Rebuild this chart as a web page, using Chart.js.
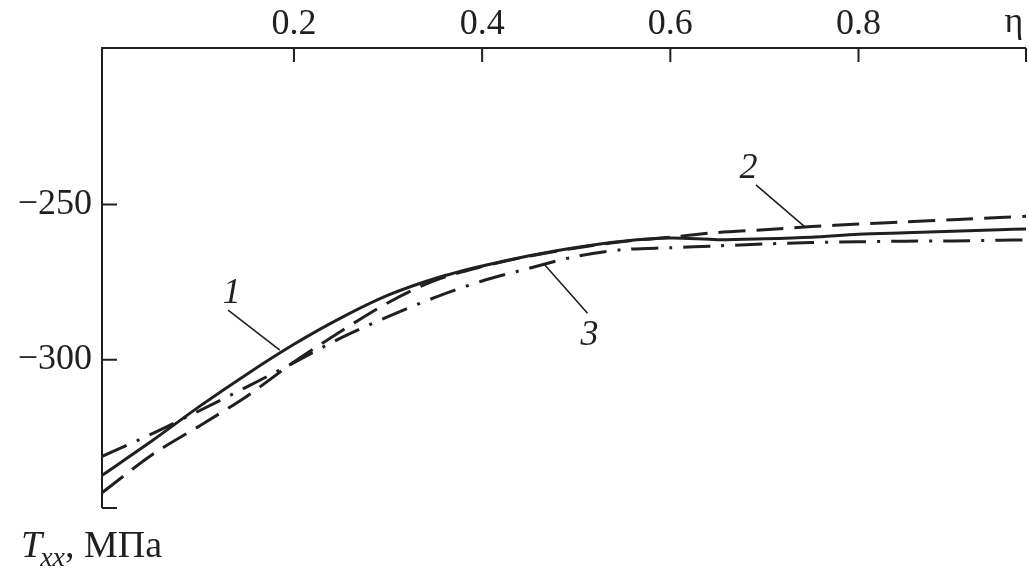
<!DOCTYPE html>
<html>
<head>
<meta charset="utf-8">
<script src="https://cdn.jsdelivr.net/npm/chart.js@4.4.0/dist/chart.umd.min.js"></script>
<style>
html,body{margin:0;padding:0;background:#fff}
#wrap{width:1028px;height:576px}
</style>
</head>
<body>
<div id="wrap"><canvas id="myChart"></canvas></div>
<script>
// eta values and T_xx (MPa)
const eta = [-0.004, 0.05, 0.1, 0.15, 0.2, 0.25, 0.3, 0.35, 0.4, 0.45, 0.5, 0.55, 0.6, 0.65, 0.7, 0.75, 0.8, 0.85, 0.9, 0.95, 0.978]
const curve1 = [-337.2, -325.9, -314.9, -304.6, -295.0, -286.5, -279.2, -273.8, -269.8, -266.5, -263.8, -261.8, -260.8, -261.3, -261.0, -260.5, -259.6, -259.1, -258.6, -258.1, -257.9]
const curve2 = [-342.8, -330.4, -321.2, -311.7, -300.7, -290.8, -281.6, -274.4, -270.0, -266.6, -264.0, -261.9, -260.5, -259.0, -258.1, -257.1, -256.3, -255.6, -254.9, -254.2, -253.8]
const curve3 = [-331.1, -323.7, -316.3, -308.7, -300.9, -292.9, -286.1, -279.9, -274.6, -270.5, -266.7, -264.5, -263.9, -263.3, -262.7, -262.2, -262.0, -261.8, -261.7, -261.5, -261.4]

const xTicks = [0.2, 0.4, 0.6, 0.8]
const yTicks = [-300, -250]
const xMin = -0.004, xMax = 0.978
const yMin = -347.7, yMax = -199.6

// curve numbers and their leader lines, in data units
const curveNames = ['1', '2', '3']
const nameAt = [[0.134, -281.8], [0.683, -241.5], [0.514, -295.3]]
const leadFrom = [[0.130, -284.0], [0.691, -243.7], [0.465, -268.9]]
const leadTo = [[0.185, -296.9], [0.743, -257.2], [0.512, -285.0]]

const ink = '#231f20'
const serif = '"Liberation Serif", "DejaVu Serif", serif'

let pts = (ys) => ys.map((v, i) => ({x: eta[i], y: v}))

const frame = {
  id: 'frame',
  afterDraw(chart) {
    const ctx = chart.ctx
    const a = chart.chartArea
    const x = chart.scales.x, y = chart.scales.y
    ctx.save()
    ctx.strokeStyle = ink
    ctx.lineWidth = 2
    ctx.beginPath()
    ctx.moveTo(a.left, a.bottom)
    ctx.lineTo(a.left, a.top)
    ctx.lineTo(a.right, a.top)
    xTicks.concat([xMax]).forEach(v => {
      const px = x.getPixelForValue(v)
      ctx.moveTo(px, a.top)
      ctx.lineTo(px, a.top + 14)
    })
    yTicks.concat([yMin]).forEach(v => {
      const py = y.getPixelForValue(v)
      ctx.moveTo(a.left, py)
      ctx.lineTo(a.left + 15, py)
    })
    ctx.stroke()

    // leader lines
    ctx.lineWidth = 1.6
    ctx.beginPath()
    for (let i = 0; i < curveNames.length; i++) {
      ctx.moveTo(x.getPixelForValue(leadFrom[i][0]), y.getPixelForValue(leadFrom[i][1]))
      ctx.lineTo(x.getPixelForValue(leadTo[i][0]), y.getPixelForValue(leadTo[i][1]))
    }
    ctx.stroke()

    ctx.fillStyle = ink
    ctx.textAlign = 'center'
    ctx.textBaseline = 'alphabetic'
    ctx.font = 'italic 36px ' + serif
    for (let i = 0; i < curveNames.length; i++) {
      ctx.fillText(curveNames[i], x.getPixelForValue(nameAt[i][0]), y.getPixelForValue(nameAt[i][1]))
    }

    // axis names
    ctx.font = '36px ' + serif
    ctx.fillText('η', a.right - 12, a.top - 16)
    ctx.textAlign = 'left'
    let tx = 21
    const by = a.bottom + 49
    ctx.font = 'italic 38px ' + serif
    ctx.fillText('T', tx, by)
    tx += ctx.measureText('T').width - 2
    ctx.font = 'italic 28px ' + serif
    ctx.fillText('xx', tx, by + 9)
    tx += ctx.measureText('xx').width
    ctx.font = '38px ' + serif
    ctx.fillText(', МПа', tx, by)
    ctx.restore()
  }
}

const config = {
  type: 'line',
  data: {
    datasets: [
      {label: '1', data: pts(curve1), borderColor: ink, borderWidth: 3, pointRadius: 0, tension: 0.3},
      {label: '2', data: pts(curve2), borderColor: ink, borderWidth: 3, borderDash: [27, 11], pointRadius: 0, tension: 0.3},
      {label: '3', data: pts(curve3), borderColor: ink, borderWidth: 3, borderDash: [27, 11, 3, 11], pointRadius: 0, tension: 0.3}
    ]
  },
  options: {
    responsive: true,
    maintainAspectRatio: false,
    animation: false,
    layout: {padding: {left: 0, top: 0, right: 2, bottom: 68}},
    plugins: {legend: {display: false}, tooltip: {enabled: false}},
    scales: {
      x: {
        type: 'linear',
        position: 'top',
        min: xMin,
        max: xMax,
        grid: {display: false, drawTicks: false},
        border: {display: false},
        afterBuildTicks: (s) => { s.ticks = xTicks.map(v => ({value: v})) },
        afterFit: (s) => { s.height = 48 },
        ticks: {
          autoSkip: false,
          maxRotation: 0,
          padding: 2,
          color: ink,
          font: {family: serif, size: 36},
          callback: (v) => v.toFixed(1)
        }
      },
      y: {
        type: 'linear',
        min: yMin,
        max: yMax,
        grid: {display: false, drawTicks: false},
        border: {display: false},
        afterBuildTicks: (s) => { s.ticks = yTicks.map(v => ({value: v})) },
        afterFit: (s) => { s.width = 102 },
        ticks: {
          autoSkip: false,
          padding: 10,
          color: ink,
          font: {family: serif, size: 36},
          callback: (v) => '\u2212' + Math.abs(v)
        }
      }
    }
  },
  plugins: [frame]
}

var myChart = new Chart(document.getElementById('myChart'), config)
</script>
</body>
</html>
